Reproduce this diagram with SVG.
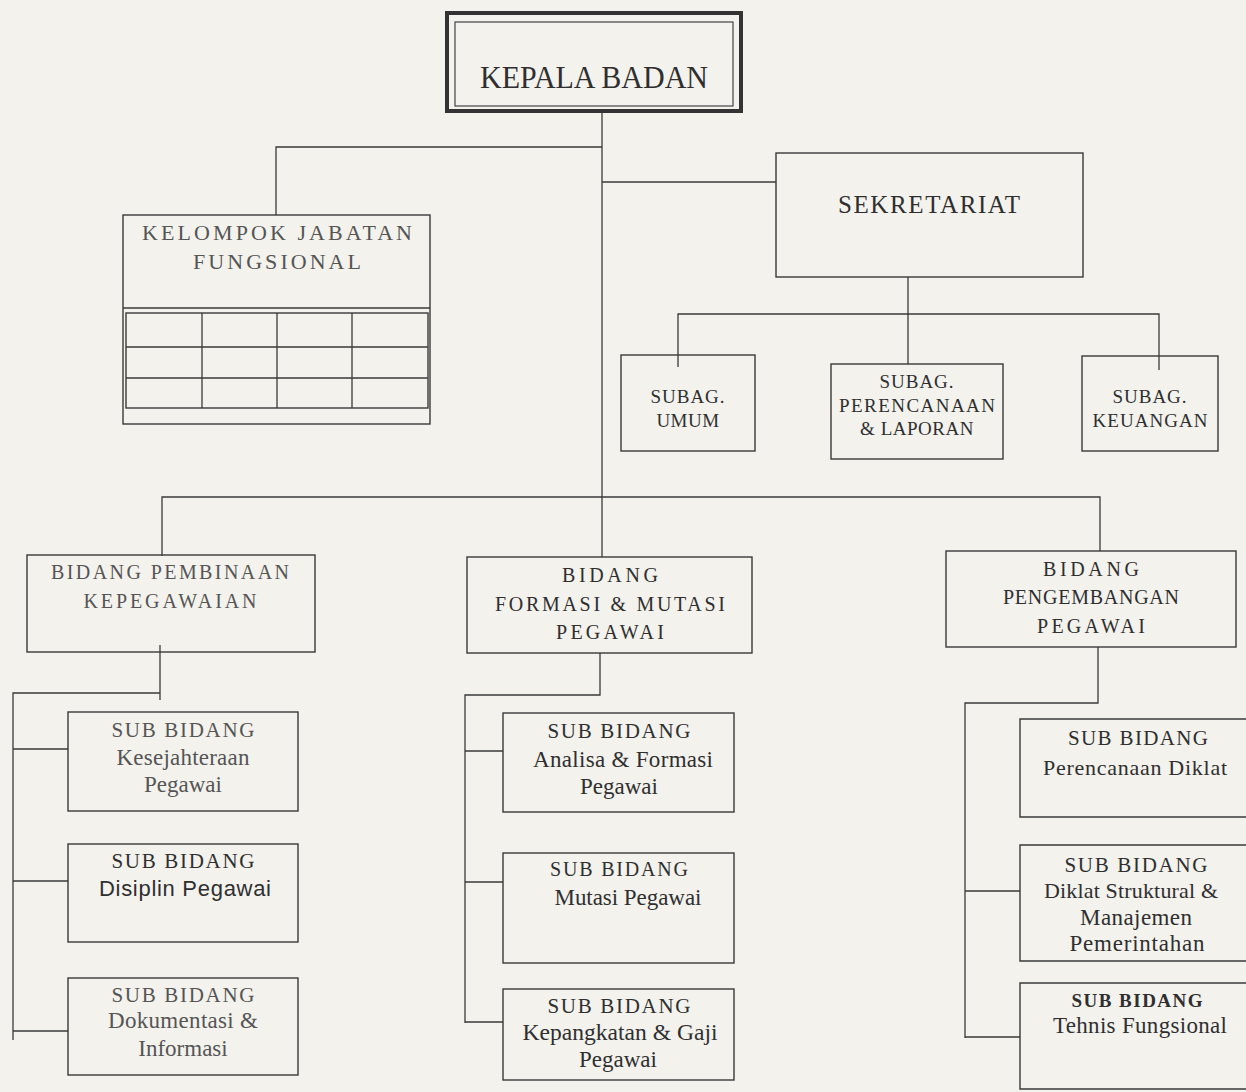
<svg xmlns="http://www.w3.org/2000/svg" width="1246" height="1092" viewBox="0 0 1246 1092">
<style>
.bg{fill:#f3f2ed}
.box{fill:none;stroke:#3a3a3a;stroke-width:1.4}
.ln{fill:none;stroke:#3a3a3a;stroke-width:1.3}
.t{font-family:"Liberation Serif","Times New Roman",serif;fill:#2f2f2f;text-anchor:middle}
.lt{fill:#555}
.s19{font-size:19px}
.s20{font-size:20px}
.s21{font-size:21px}
.s22{font-size:22px}
.s23{font-size:23px}
.sans{font-family:"Liberation Sans",Arial,sans-serif}
</style>
<rect class="bg" x="0" y="0" width="1246" height="1092"/>

<g id="connectors">
  <path class="ln" d="M602 111 V557"/>
  <path class="ln" d="M276 215 V147 H602"/>
  <path class="ln" d="M602 182 H776"/>
  <path class="ln" d="M908 277 V364"/>
  <path class="ln" d="M678 367 V314 H1159 V370"/>
  <path class="ln" d="M162 556 V497 H1100 V551"/>
  <path class="ln" d="M160 645 V700"/>
  <path class="ln" d="M160 693 H13 V1040"/>
  <path class="ln" d="M13 749 H68 M13 881 H68 M13 1031 H68"/>
  <path class="ln" d="M600 653 V695 H465 V1023"/>
  <path class="ln" d="M465 751 H503 M465 882 H503 M465 1022 H503"/>
  <path class="ln" d="M1098 647 V703 H965 V1038"/>
  <path class="ln" d="M965 891 H1020 M965 1037 H1020"/>
</g>

<g id="kepala-badan">
  <rect x="447" y="13" width="294" height="98" fill="none" stroke="#333" stroke-width="4"/>
  <rect x="455" y="22" width="278" height="84" fill="none" stroke="#444" stroke-width="1.2"/>
  <text class="t" x="594" y="88" font-size="32" textLength="228" lengthAdjust="spacingAndGlyphs">KEPALA BADAN</text>
</g>

<g id="kelompok-jabatan-fungsional">
  <rect class="box" x="123" y="215" width="307" height="209"/>
  <line class="ln" x1="123" y1="308" x2="430" y2="308"/>
  <rect class="box" x="126" y="313" width="302" height="95"/>
  <path class="ln" d="M126 347 H428 M126 378 H428 M202 313 V408 M277 313 V408 M352 313 V408"/>
  <text class="t lt s22" x="277" y="240" textLength="270" lengthAdjust="spacing">KELOMPOK JABATAN</text>
  <text class="t lt s22" x="277" y="269" textLength="168" lengthAdjust="spacing">FUNGSIONAL</text>
</g>

<g id="sekretariat">
  <rect class="box" x="776" y="153" width="307" height="124"/>
  <text class="t" x="929" y="213" font-size="25" textLength="182" lengthAdjust="spacing">SEKRETARIAT</text>
</g>

<g id="subag-umum">
  <rect class="box" x="621" y="355" width="134" height="96"/>
  <text class="t s19" x="688" y="403" letter-spacing="1">SUBAG.</text>
  <text class="t s19" x="688" y="427" letter-spacing="0.5">UMUM</text>
</g>

<g id="subag-perencanaan">
  <rect class="box" x="831" y="364" width="172" height="95"/>
  <text class="t s19" x="917" y="388" letter-spacing="1">SUBAG.</text>
  <text class="t s19" x="917" y="412" textLength="156" lengthAdjust="spacing">PERENCANAAN</text>
  <text class="t s19" x="917" y="435" letter-spacing="0.5">&amp; LAPORAN</text>
</g>

<g id="subag-keuangan">
  <rect class="box" x="1082" y="356" width="136" height="95"/>
  <text class="t s19" x="1150" y="403" letter-spacing="1">SUBAG.</text>
  <text class="t s19" x="1150" y="427" textLength="115" lengthAdjust="spacing">KEUANGAN</text>
</g>

<g id="bidang-pembinaan">
  <rect class="box" x="27" y="555" width="288" height="97"/>
  <text class="t lt s20" x="170" y="579" textLength="238" lengthAdjust="spacing">BIDANG PEMBINAAN</text>
  <text class="t lt s20" x="170" y="608" textLength="173" lengthAdjust="spacing">KEPEGAWAIAN</text>
</g>

<g id="bidang-formasi">
  <rect class="box" x="467" y="557" width="285" height="96"/>
  <text class="t s20" x="610" y="582" textLength="96" lengthAdjust="spacing">BIDANG</text>
  <text class="t s20" x="610" y="611" textLength="230" lengthAdjust="spacing">FORMASI &amp; MUTASI</text>
  <text class="t s20" x="610" y="639" textLength="108" lengthAdjust="spacing">PEGAWAI</text>
</g>

<g id="bidang-pengembangan">
  <rect class="box" x="946" y="551" width="290" height="96"/>
  <text class="t s20" x="1091" y="576" textLength="96" lengthAdjust="spacing">BIDANG</text>
  <text class="t s20" x="1091" y="604" textLength="176" lengthAdjust="spacing">PENGEMBANGAN</text>
  <text class="t s20" x="1091" y="633" textLength="108" lengthAdjust="spacing">PEGAWAI</text>
</g>

<g id="sub-kesejahteraan">
  <rect class="box" x="68" y="712" width="230" height="99"/>
  <text class="t lt s21" x="183" y="737" textLength="143" lengthAdjust="spacing">SUB BIDANG</text>
  <text class="t lt s23" x="183" y="765" textLength="133" lengthAdjust="spacing">Kesejahteraan</text>
  <text class="t lt s23" x="183" y="792">Pegawai</text>
</g>

<g id="sub-disiplin">
  <rect class="box" x="68" y="844" width="230" height="98"/>
  <text class="t s21" x="183" y="868" textLength="143" lengthAdjust="spacing">SUB BIDANG</text>
  <text class="t sans" x="185" y="896" font-size="22" textLength="172" lengthAdjust="spacing">Disiplin Pegawai</text>
</g>

<g id="sub-dokumentasi">
  <rect class="box" x="68" y="978" width="230" height="97"/>
  <text class="t lt s21" x="183" y="1002" textLength="143" lengthAdjust="spacing">SUB BIDANG</text>
  <text class="t lt s23" x="183" y="1028" textLength="150" lengthAdjust="spacing">Dokumentasi &amp;</text>
  <text class="t lt s23" x="183" y="1056">Informasi</text>
</g>

<g id="sub-analisa">
  <rect class="box" x="503" y="713" width="231" height="99"/>
  <text class="t s21" x="619" y="738" textLength="143" lengthAdjust="spacing">SUB BIDANG</text>
  <text class="t s23" x="623" y="767" textLength="180" lengthAdjust="spacing">Analisa &amp; Formasi</text>
  <text class="t s23" x="619" y="794">Pegawai</text>
</g>

<g id="sub-mutasi">
  <rect class="box" x="503" y="853" width="231" height="110"/>
  <text class="t s20" x="619" y="876" textLength="138" lengthAdjust="spacing">SUB BIDANG</text>
  <text class="t s23" x="628" y="905" textLength="147" lengthAdjust="spacing">Mutasi Pegawai</text>
</g>

<g id="sub-kepangkatan">
  <rect class="box" x="503" y="989" width="231" height="91"/>
  <text class="t s21" x="619" y="1013" textLength="143" lengthAdjust="spacing">SUB BIDANG</text>
  <text class="t s23" x="620" y="1040" textLength="195" lengthAdjust="spacingAndGlyphs">Kepangkatan &amp; Gaji</text>
  <text class="t s23" x="618" y="1067">Pegawai</text>
</g>

<g id="sub-perencanaan-diklat">
  <path class="box" d="M1250 719 H1020 V817 H1250"/>
  <text class="t s21" x="1138" y="745" textLength="140" lengthAdjust="spacing">SUB BIDANG</text>
  <text class="t s22" x="1135" y="775" textLength="184" lengthAdjust="spacing">Perencanaan Diklat</text>
</g>

<g id="sub-diklat-struktural">
  <path class="box" d="M1250 845 H1020 V961 H1250"/>
  <text class="t s21" x="1136" y="872" textLength="143" lengthAdjust="spacing">SUB BIDANG</text>
  <text class="t s22" x="1131" y="898" textLength="174" lengthAdjust="spacing">Diklat Struktural &amp;</text>
  <text class="t s23" x="1136" y="925" textLength="112" lengthAdjust="spacing">Manajemen</text>
  <text class="t s23" x="1137" y="951" textLength="135" lengthAdjust="spacing">Pemerintahan</text>
</g>

<g id="sub-tehnis-fungsional">
  <path class="box" d="M1250 983 H1020 V1089 H1250"/>
  <text class="t s19" x="1137" y="1007" font-weight="bold" textLength="131" lengthAdjust="spacing">SUB BIDANG</text>
  <text class="t s23" x="1140" y="1033" textLength="174" lengthAdjust="spacing">Tehnis Fungsional</text>
</g>
</svg>
